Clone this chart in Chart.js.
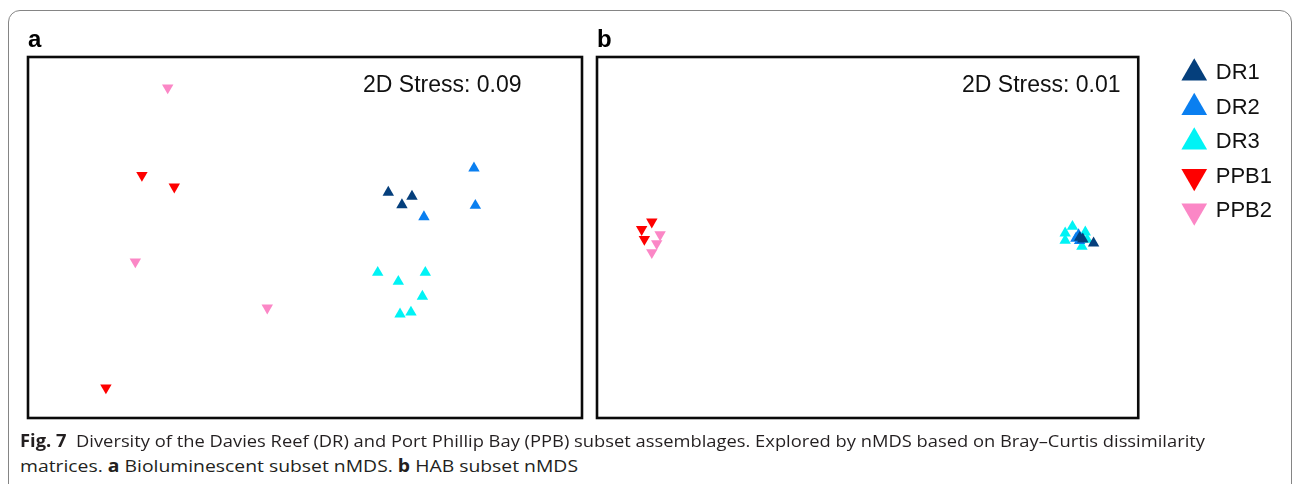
<!DOCTYPE html>
<html><head><meta charset="utf-8">
<script src="https://cdn.jsdelivr.net/npm/chart.js@4.4.1/dist/chart.umd.min.js"></script>
<style>
html,body{margin:0;padding:0;background:#fff;width:1293px;height:484px;overflow:hidden;position:relative;}
#frame{position:absolute;left:8px;top:10px;width:1284px;height:520px;border:1.5px solid #858585;border-radius:12px;box-sizing:border-box;}
canvas{position:absolute;top:0;}
#ca{left:0px;}
#cb{left:590px;}
.cap{position:absolute;left:20px;font-family:"Open Sans",sans-serif;font-size:17px;line-height:1;color:#231f20;white-space:nowrap;transform-origin:0 0;}
.cap b{font-weight:700;}
</style></head><body>
<div id="frame"></div>
<canvas id="ca" width="590" height="430"></canvas>
<canvas id="cb" width="703" height="430"></canvas>
<div class="cap" id="cap1" style="top:432px"><b>Fig. 7</b>&nbsp; Diversity of the Davies Reef (DR) and Port Phillip Bay (PPB) subset assemblages. Explored by nMDS based on Bray–Curtis dissimilarity</div>
<div class="cap" id="cap2" style="top:457px">matrices. <b>a</b> Bioluminescent subset nMDS. <b>b</b> HAB subset nMDS</div>
<script>
// ---- data (nMDS coordinates) ----
const seriesNames = ['DR1', 'DR2', 'DR3', 'PPB1', 'PPB2'];

// panel a : Bioluminescent subset
const bioDR1  = [[0.481, 0.262], [0.618, 0.239], [0.560, 0.190]];
const bioDR2  = [[0.976, 0.403], [0.984, 0.186], [0.687, 0.120]];
const bioDR3  = [[0.420, -0.204], [0.695, -0.204], [0.539, -0.256], [0.678, -0.343], [0.549, -0.446], [0.612, -0.435]];
const bioPPB1 = [[-0.942, 0.362], [-0.755, 0.295], [-1.150, -0.874]];
const bioPPB2 = [[-0.793, 0.871], [-0.980, -0.141], [-0.218, -0.409]];
const bioStress = '0.09';

// panel b : HAB subset
const habDR1  = [[1.336, -0.033], [1.254, 0.000], [1.272, -0.010]];
const habDR2  = [[1.247, 0.016], [1.253, -0.019], [1.231, -0.006]];
const habDR3  = [[1.211, 0.064], [1.168, 0.025], [1.168, -0.017], [1.287, 0.031], [1.267, -0.052], [1.298, -0.012]];
const habPPB1 = [[-1.276, 0.091], [-1.336, 0.047], [-1.320, -0.010]];
const habPPB2 = [[-1.227, 0.017], [-1.247, -0.035], [-1.276, -0.087]];
const habStress = '0.01';

const panelLabels = ['a', 'b'];
const axisX = [-1.6, 1.6];
const axisY = [-1.05, 1.05];

// ---- styles ----
const STY = {
  colors: ['#053f7c', '#0a7ff0', '#00f3f5', '#fe0000', '#fb87c6'],
  rotation: [0, 0, 0, 180, 180],
  font: '"Liberation Sans", Arial, sans-serif'
};

const framePlugin = {
  id: 'frameBox',
  afterDraw(chart) {
    const a = chart.chartArea, ctx = chart.ctx;
    ctx.save();
    ctx.strokeStyle = '#0a0a0a';
    ctx.lineWidth = 2.6;
    ctx.strokeRect(a.left, a.top, a.right - a.left, a.bottom - a.top);
    ctx.restore();
  }
};
const stressPlugin = {
  id: 'stressLabel',
  afterDraw(chart, args, opts) {
    const a = chart.chartArea, ctx = chart.ctx;
    ctx.save();
    ctx.fillStyle = '#111';
    ctx.font = '23px ' + STY.font;
    ctx.textBaseline = 'alphabetic';
    ctx.textAlign = 'left';
    ctx.fillText('2D Stress: ' + opts.value, a.left + opts.dx, a.top + opts.dy);
    ctx.restore();
  }
};

function toPts(arr) { return arr.map(p => ({x: p[0], y: p[1]})); }

function build(id, sets, stress, label, withLegend, stressDx) {
  const datasets = sets.map((s, i) => ({
    label: seriesNames[i],
    data: toPts(s),
    pointStyle: 'triangle',
    rotation: STY.rotation[i],
    pointRadius: 6.6,
    pointHoverRadius: 6.6,
    backgroundColor: STY.colors[i],
    borderColor: STY.colors[i],
    borderWidth: 0
  }));
  const yScale = {
    type: 'linear', min: axisY[0], max: axisY[1],
    display: withLegend, position: 'right',
    ticks: {display: false}, grid: {display: false, drawTicks: false}, border: {display: false},
    title: {display: false}
  };
  if (withLegend) yScale.afterFit = s => { s.width = 33; };
  return new Chart(document.getElementById(id), {
    type: 'scatter',
    data: {datasets},
    options: {
      responsive: false, animation: false, devicePixelRatio: 1, events: [],
      layout: {autoPadding: false, padding: withLegend ? {left: 7, top: 26.3, right: 11, bottom: 12} : {left: 28, top: 26.3, right: 8, bottom: 12}},
      scales: {
        x: {type: 'linear', min: axisX[0], max: axisX[1], display: false},
        y: yScale
      },
      plugins: {
        tooltip: {enabled: false},
        title: {display: true, text: label, align: 'start', fullSize: false, color: '#000',
                font: {family: STY.font, size: 24, weight: 'bold', lineHeight: 1.2}, padding: {top: 0, bottom: 1.9}},
        legend: withLegend ? {
          display: true, position: 'right', align: 'start', fullSize: true,
          title: {display: true, text: '', font: {size: 10}, padding: {top: 11.2, bottom: 0}},
          labels: {usePointStyle: true, boxWidth: 21, boxHeight: 21, padding: 12.5, color: '#111',
                   font: {family: STY.font, size: 22}}
        } : {display: false},
        stressLabel: {value: stress, dx: stressDx, dy: 35}
      }
    },
    plugins: [framePlugin, stressPlugin]
  });
}

build('ca', [bioDR1, bioDR2, bioDR3, bioPPB1, bioPPB2], bioStress, panelLabels[0], false, 335);
build('cb', [habDR1, habDR2, habDR3, habPPB1, habPPB2], habStress, panelLabels[1], true, 365);

function fitCap(id, w) {
  const el = document.getElementById(id);
  el.style.transform = 'none';
  const nat = el.getBoundingClientRect().width;
  el.style.transform = 'scaleX(' + (w / nat) + ')';
}
fitCap('cap1', 1185);
fitCap('cap2', 558);
if (document.fonts && document.fonts.ready) document.fonts.ready.then(() => { fitCap('cap1', 1185); fitCap('cap2', 558); });
</script>
</body></html>
